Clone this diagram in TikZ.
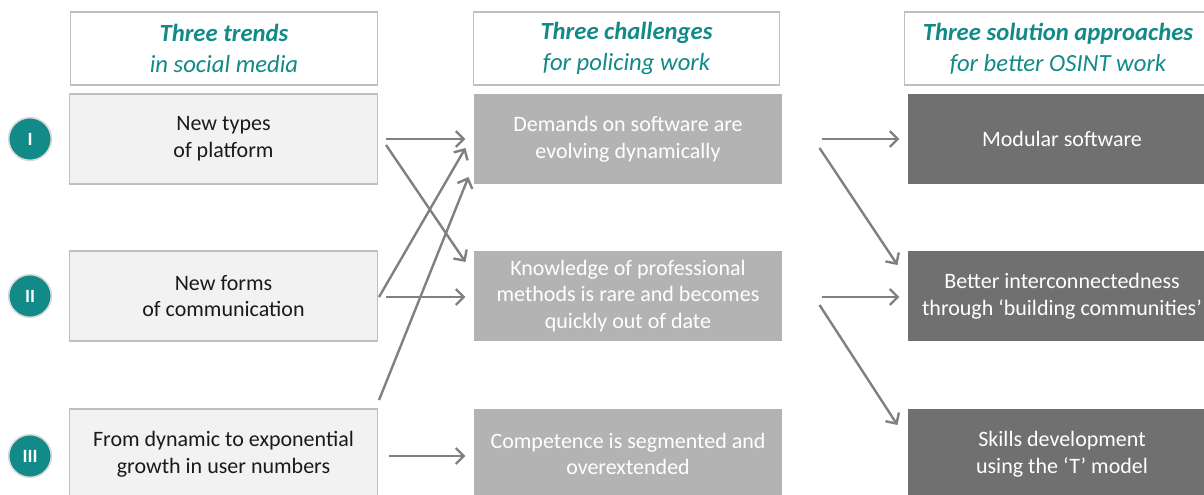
\documentclass[tikz,border=0pt]{standalone}
\usepackage{fontspec}
\setsansfont{Carlito}
\usetikzlibrary{arrows.meta,positioning}
\definecolor{osintTeal}{HTML}{128A88}
\definecolor{osintLine}{HTML}{BFBFBF}
\definecolor{osintLight}{HTML}{F2F2F2}
\definecolor{osintMid}{HTML}{B3B3B3}
\definecolor{osintDark}{HTML}{707070}
\definecolor{osintArrow}{HTML}{808080}
\definecolor{osintInk}{HTML}{1A1A1A}
\tikzset{
  every picture/.style={font=\sffamily\fontsize{16.5}{20}\selectfont, text=osintInk},
  osint head/.style={draw=osintLine, line width=0.8pt, fill=white, align=center,
    minimum width=230pt, minimum height=54.75pt, text=osintTeal,
    font=\sffamily\itshape\fontsize{18.5}{23}\selectfont},
  osint box/.style={draw=osintLine, line width=0.8pt, align=center,
    minimum width=231pt, minimum height=67.5pt},
  osint trend/.style={osint box, fill=osintLight},
  osint challenge/.style={osint box, draw=none, fill=osintMid, text=white},
  osint solution/.style={osint box, draw=none, fill=osintDark, text=white},
  osint badge/.style={circle, fill=osintTeal, draw=osintLine!60, line width=1.2pt,
    minimum size=32pt, inner sep=0pt, text=white,
    font=\sffamily\bfseries\fontsize{14}{14}\selectfont},
  osint arrow/.style={-{Straight Barb[length=6pt,width=12pt]},
    draw=osintArrow, line width=1.8pt}
}

\begin{document}
\begin{tikzpicture}[x=0.75pt,y=-0.75pt]
  \useasboundingbox (0,0) rectangle (1204,495);
  % column heads
  \node[osint head] (h1) at (224,48.5) {\textbf{Three trends}\\in social media};
  \node[osint head] (h2) at (626.5,48.5) {\textbf{Three challenges}\\for policing work};
  \node[osint head] (h3) at (1058,48.5) {\textbf{Three solution approaches}\\for better OSINT work};
  % trends
  \node[osint trend] (t1) at (223.5,139) {New types\\of platform};
  \node[osint trend] (t2) at (223.5,296) {New forms\\of communication};
  \node[osint trend] (t3) at (223.5,454) {From dynamic to exponential\\growth in user numbers};
  % challenges
  \node[osint challenge] (c1) at (628,139) {Demands on software are\\evolving dynamically};
  \node[osint challenge] (c2) at (628,296) {Knowledge of professional\\methods is rare and becomes\\quickly out of date};
  \node[osint challenge] (c3) at (628,454) {Competence is segmented and\\overextended};
  % solutions
  \node[osint solution] (s1) at (1062,139) {Modular software};
  \node[osint solution] (s2) at (1062,296) {Better interconnectedness\\through `building communities'};
  \node[osint solution] (s3) at (1062,454) {Skills development\\using the `T' model};
  % row badges
  \foreach \r/\lbl/\y in {1/I/139,2/II/296,3/III/456}
    \node[osint badge] (b\r) at (30,\y) {\lbl};
  % trends -> challenges
  \draw[osint arrow] ([shift={(8,0)}]t1.east) -- ([shift={(-8,0)}]c1.west);
  \draw[osint arrow] ([shift={(8,6)}]t1.east) -- ([shift={(-8,-34)}]c2.west);
  \draw[osint arrow] ([shift={(1,1)}]t2.east) -- ([shift={(-8,9)}]c1.west);
  \draw[osint arrow] ([shift={(8,1)}]t2.east) -- ([shift={(-8,1)}]c2.west);
  \draw[osint arrow] ([shift={(1,-54)}]t3.east) -- ([shift={(-5,38)}]c1.west);
  \draw[osint arrow] ([shift={(11,2)}]t3.east) -- ([shift={(-8,2)}]c3.west);
  % challenges -> solutions
  \draw[osint arrow] ([shift={(39,0)}]c1.east) -- ([shift={(-8,0)}]s1.west);
  \draw[osint arrow] ([shift={(37,9)}]c1.east) -- ([shift={(-10,-31)}]s2.west);
  \draw[osint arrow] ([shift={(39,1)}]c2.east) -- ([shift={(-8,1)}]s2.west);
  \draw[osint arrow] ([shift={(37,9)}]c2.east) -- ([shift={(-10,-29)}]s3.west);
\end{tikzpicture}
\end{document}
